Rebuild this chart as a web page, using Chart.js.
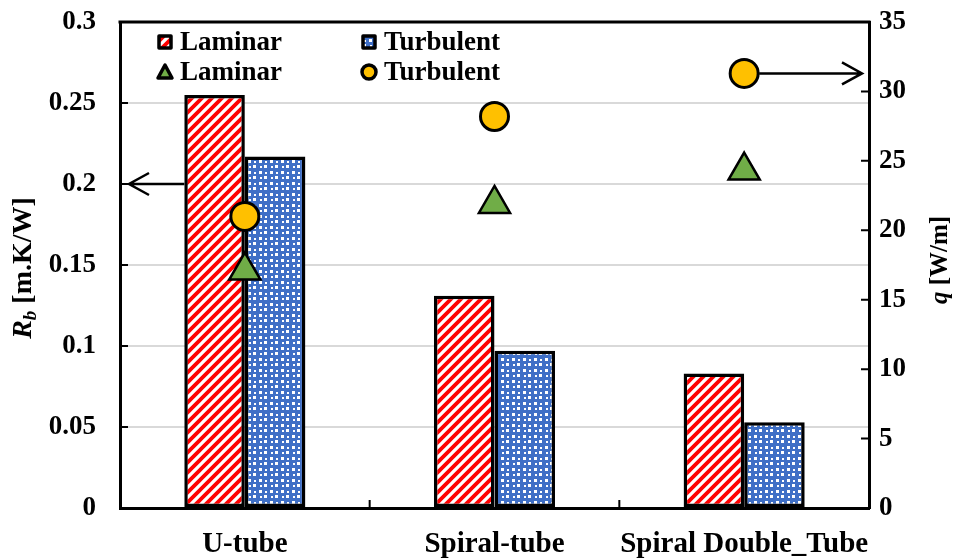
<!DOCTYPE html>
<html>
<head>
<meta charset="utf-8">
<script src="https://cdn.jsdelivr.net/npm/chart.js@4"></script>
<style>
  html, body { margin: 0; padding: 0; background: #fff; }
  #wrap { width: 957px; height: 559px; }
</style>
</head>
<body>
<div id="wrap"><canvas id="rbChart" width="957" height="559"></canvas></div>
<script>
const categories = ['U-tube', 'Spiral-tube', 'Spiral Double_Tube'];
const rbLaminar = [0.255, 0.131, 0.083];
const rbTurbulent = [0.217, 0.097, 0.053];
const qLaminar = [17.1, 21.9, 24.3];
const qTurbulent = [21.0, 28.2, 31.3];
const rbTicks = [0, 0.05, 0.1, 0.15, 0.2, 0.25, 0.3];
const qTicks = [0, 5, 10, 15, 20, 25, 30, 35];

const FONT = '"Liberation Serif", "Times New Roman", serif';

// hatch patterns
function stripePattern() {
    const c = document.createElement('canvas');
    c.width = 10; c.height = 10;
    const g = c.getContext('2d');
    g.fillStyle = '#fff';
    g.fillRect(0, 0, 10, 10);
    g.strokeStyle = '#ff0000';
    g.lineWidth = 3.8;
    g.beginPath();
    g.moveTo(-5, 5); g.lineTo(5, -5);
    g.moveTo(0, 10); g.lineTo(10, 0);
    g.moveTo(5, 15); g.lineTo(15, 5);
    g.stroke();
    return g.createPattern(c, 'repeat');
}

function dotPattern() {
    const c = document.createElement('canvas');
    c.width = 11; c.height = 11;
    const g = c.getContext('2d');
    g.fillStyle = '#3f6fc6';
    g.fillRect(0, 0, 11, 11);
    g.fillStyle = '#fff';
    g.fillRect(0, 0, 3, 3);
    g.fillRect(6, 6, 3, 3);
    g.fillRect(7, 1, 2, 2);
    g.fillRect(1, 7, 2, 2);
    return g.createPattern(c, 'repeat');
}

const redHatch = stripePattern();
const blueDots = dotPattern();

const extras = {
    id: 'extras',
    afterDatasetsDraw(chart) {
        const { ctx, chartArea: a, scales } = chart;
        const y = scales.y, y1 = scales.y1, x = scales.x;
        ctx.save();
        ctx.strokeStyle = '#000';
        ctx.lineCap = 'butt';

        // top frame line
        ctx.lineWidth = 3;
        ctx.beginPath();
        ctx.moveTo(a.left - 1.5, a.top); ctx.lineTo(a.right + 1.5, a.top);
        ctx.stroke();

        // inside tick marks
        ctx.lineWidth = 2;
        ctx.beginPath();
        rbTicks.forEach(v => {
            const py = y.getPixelForValue(v);
            ctx.moveTo(a.left, py); ctx.lineTo(a.left + 8, py);
        });
        qTicks.forEach(v => {
            const py = y1.getPixelForValue(v);
            ctx.moveTo(a.right, py); ctx.lineTo(a.right - 8, py);
        });
        for (let i = 1; i < categories.length; i++) {
            const px = (x.getPixelForValue(i - 1) + x.getPixelForValue(i)) / 2;
            ctx.moveTo(px, a.bottom); ctx.lineTo(px, a.bottom - 8);
        }
        ctx.stroke();

        // arrows
        const barL = chart.getDatasetMeta(0).data[0];
        const arrowY = y.getPixelForValue(0.2);
        const lx1 = barL.x - barL.width / 2, lx2 = a.left + 9;
        const circ = chart.getDatasetMeta(3).data[2];
        const arrowY2 = circ.y;
        const rx1 = circ.x + 15, rx2 = a.right - 7;
        ctx.lineWidth = 2.5;
        ctx.lineJoin = 'miter';
        ctx.beginPath();
        ctx.moveTo(lx1, arrowY); ctx.lineTo(lx2, arrowY);
        ctx.moveTo(lx2 + 20, arrowY - 11); ctx.lineTo(lx2, arrowY); ctx.lineTo(lx2 + 20, arrowY + 11);
        ctx.moveTo(rx1, arrowY2); ctx.lineTo(rx2, arrowY2);
        ctx.moveTo(rx2 - 20, arrowY2 - 11); ctx.lineTo(rx2, arrowY2); ctx.lineTo(rx2 - 20, arrowY2 + 11);
        ctx.stroke();

        // legend
        ctx.font = 'bold 27px ' + FONT;
        ctx.fillStyle = '#000';
        ctx.textBaseline = 'middle';
        ctx.textAlign = 'left';
        const rows = [42, 72];
        const cols = [165, 369];
        const items = [
            { kind: 'box', fill: redHatch, text: 'Laminar', c: 0, r: 0 },
            { kind: 'box', fill: blueDots, text: 'Turbulent', c: 1, r: 0 },
            { kind: 'tri', fill: '#70ad47', text: 'Laminar', c: 0, r: 1 },
            { kind: 'circ', fill: '#ffc000', text: 'Turbulent', c: 1, r: 1 }
        ];
        items.forEach(it => {
            const cx = cols[it.c], cy = rows[it.r];
            ctx.lineWidth = 3.5;
            ctx.lineJoin = 'round';
            ctx.fillStyle = it.fill;
            ctx.beginPath();
            if (it.kind === 'box') {
                ctx.rect(cx - 6, cy - 6, 12, 12);
            } else if (it.kind === 'tri') {
                ctx.moveTo(cx, cy - 7); ctx.lineTo(cx + 7, cy + 6); ctx.lineTo(cx - 7, cy + 6); ctx.closePath();
            } else {
                ctx.arc(cx, cy, 7, 0, Math.PI * 2);
            }
            ctx.fill();
            ctx.stroke();
            ctx.fillStyle = '#000';
            ctx.fillText(it.text, cx + 15, cy + 1);
        });

        // axis titles with italic symbols
        function vTitle(cx, cy, size, sym, sub, unit) {
            ctx.save();
            ctx.translate(cx, cy);
            ctx.rotate(-Math.PI / 2);
            ctx.textBaseline = 'middle';
            ctx.textAlign = 'left';
            const fSym = 'italic bold ' + size + 'px ' + FONT;
            const fSub = 'italic bold ' + Math.round(size * 0.68) + 'px ' + FONT;
            const fUnit = 'bold ' + size + 'px ' + FONT;
            ctx.font = fSym; const w1 = ctx.measureText(sym).width;
            ctx.font = fSub; const w2 = sub ? ctx.measureText(sub).width : 0;
            ctx.font = fUnit; const w3 = ctx.measureText(unit).width;
            let px = -(w1 + w2 + w3) / 2;
            ctx.fillStyle = '#000';
            ctx.font = fSym; ctx.fillText(sym, px, 0); px += w1;
            if (sub) { ctx.font = fSub; ctx.fillText(sub, px, size * 0.25); px += w2; }
            ctx.font = fUnit; ctx.fillText(unit, px, 0);
            ctx.restore();
        }
        vTitle(24, 268, 28, 'R', 'b', ' [m.K/W]');
        vTitle(941, 260, 25, 'q', '', ' [W/m]');

        ctx.restore();
    }
};

function noPadY(s, w) {
    s.width = w;
    s.paddingTop = 0;
    s.paddingBottom = 0;
}

const ctx = document.getElementById('rbChart').getContext('2d');
const rbChart = new Chart(ctx, {
    type: 'bar',
    data: {
        labels: categories,
        datasets: [
            {
                label: 'Laminar',
                data: rbLaminar,
                backgroundColor: redHatch,
                borderColor: '#000',
                borderWidth: 3.5,
                borderSkipped: false,
                yAxisID: 'y',
                order: 2
            },
            {
                label: 'Turbulent',
                data: rbTurbulent,
                backgroundColor: blueDots,
                borderColor: '#000',
                borderWidth: 3.5,
                borderSkipped: false,
                yAxisID: 'y',
                order: 2
            },
            {
                type: 'line',
                label: 'Laminar',
                data: qLaminar,
                showLine: false,
                pointStyle: 'triangle',
                pointRadius: 18,
                pointBackgroundColor: '#70ad47',
                pointBorderColor: '#000',
                pointBorderWidth: 2.5,
                yAxisID: 'y1',
                order: 1
            },
            {
                type: 'line',
                label: 'Turbulent',
                data: qTurbulent,
                showLine: false,
                pointStyle: 'circle',
                pointRadius: 14,
                pointBackgroundColor: '#ffc000',
                pointBorderColor: '#000',
                pointBorderWidth: 3,
                yAxisID: 'y1',
                order: 1
            }
        ]
    },
    options: {
        responsive: false,
        animation: false,
        layout: { padding: { top: 22, left: 0, right: 0, bottom: 0 } },
        datasets: {
            bar: { barPercentage: 1, categoryPercentage: 0.485 }
        },
        scales: {
            x: {
                offset: true,
                grid: { display: false, drawTicks: false },
                border: { color: '#000', width: 3 },
                ticks: {
                    color: '#000',
                    padding: 19,
                    autoSkip: false,
                    maxRotation: 0,
                    minRotation: 0,
                    font: { family: FONT, size: 29, weight: 'bold' }
                },
                afterFit: s => { s.height = 51; s.paddingLeft = 0; s.paddingRight = 0; }
            },
            y: {
                position: 'left',
                min: 0,
                max: 0.3,
                ticks: {
                    stepSize: 0.05,
                    color: '#000',
                    padding: 24,
                    font: { family: FONT, size: 27, weight: 'bold' },
                    callback: v => String(Math.round(v * 100) / 100)
                },
                grid: {
                    drawTicks: false,
                    color: ctx => (ctx.tick && (ctx.tick.value === 0 || ctx.tick.value >= 0.3)) ? 'rgba(0,0,0,0)' : '#d9d9d9',
                    lineWidth: 2
                },
                border: { color: '#000', width: 3 },
                afterFit: s => noPadY(s, 120)
            },
            y1: {
                position: 'right',
                min: 0,
                max: 35,
                ticks: {
                    stepSize: 5,
                    color: '#000',
                    padding: 10,
                    font: { family: FONT, size: 27, weight: 'bold' }
                },
                grid: { display: false, drawTicks: false },
                border: { color: '#000', width: 3 },
                afterFit: s => noPadY(s, 88)
            }
        },
        plugins: {
            legend: { display: false },
            tooltip: { enabled: false }
        }
    },
    plugins: [extras]
});
</script>
</body>
</html>
